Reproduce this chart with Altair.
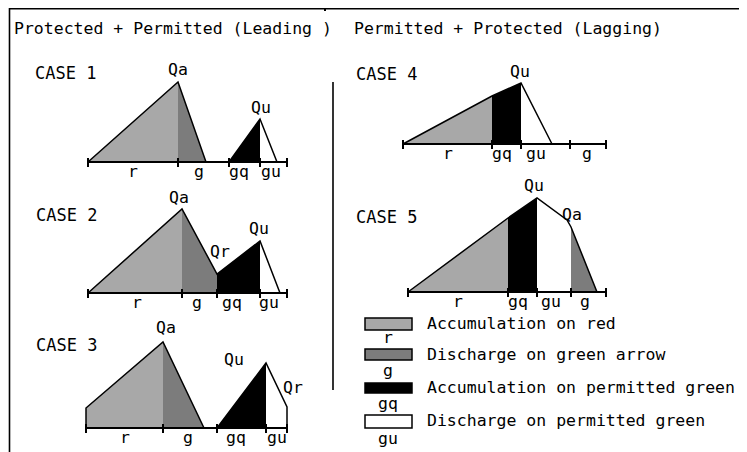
import altair as alt
import pandas as pd

# ---------------- data ----------------
PHASES = ["r", "g", "gq", "gu"]
PHASE_FILL = ["#a8a8a8", "#7c7c7c", "#000000", "#ffffff"]

TITLE_LEFT = "Protected + Permitted (Leading )"
TITLE_RIGHT = "Permitted + Protected (Lagging)"
CASES = ["CASE 1", "CASE 2", "CASE 3", "CASE 4", "CASE 5"]

# phase order, time breakpoints and queue lengths per case (diagram units)
CASE1_PHASE = ["r", "g", "gq", "gu"]
CASE1_TIME = [[0, 90], [90, 118], [141, 172], [172, 189]]
CASE1_QUEUE = [[0, 80], [80, 0], [0, 43], [43, 0]]
CASE1_TICKS = [0, 90, 141, 172, 199]
CASE1_PEAKS = ["Qa", "Qu"]

CASE2_PHASE = ["r", "g", "gq", "gu"]
CASE2_TIME = [[0, 94], [94, 129], [129, 172], [172, 192]]
CASE2_QUEUE = [[0, 84], [84, 19], [19, 52], [52, 0]]
CASE2_TICKS = [0, 94, 129, 172, 199]
CASE2_PEAKS = ["Qa", "Qr", "Qu"]

CASE3_PHASE = ["r", "g", "gq", "gu"]
CASE3_TIME = [[0, 77], [77, 118], [131, 180], [180, 201]]
CASE3_QUEUE = [[20, 86], [86, 0], [0, 65], [65, 21]]
CASE3_TICKS = [0, 77, 131, 180, 201]
CASE3_PEAKS = ["Qa", "Qu", "Qr"]

CASE4_PHASE = ["r", "gq", "gu"]
CASE4_TIME = [[0, 89], [89, 118], [118, 149]]
CASE4_QUEUE = [[0, 48], [48, 61], [61, 0]]
CASE4_TICKS = [0, 89, 118, 167, 203]
CASE4_PEAKS = ["Qu"]

CASE5_PHASE = ["r", "gq", "gu", "g"]
CASE5_TIME = [[0, 100], [100, 129], [129, 159, 163], [163, 189]]
CASE5_QUEUE = [[0, 74], [74, 94], [94, 72, 65], [65, 0]]
CASE5_TICKS = [0, 100, 129, 163, 198]
CASE5_PEAKS = ["Qu", "Qa"]

# interval labels under each time axis
CASE1_AXIS = ["r", "g", "gq", "gu"]
CASE2_AXIS = ["r", "g", "gq", "gu"]
CASE3_AXIS = ["r", "g", "gq", "gu"]
CASE4_AXIS = ["r", "gq", "gu", "g"]
CASE5_AXIS = ["r", "gq", "gu", "g"]

LEGEND_PHASE = ["r", "g", "gq", "gu"]
LEGEND_TEXT = ["Accumulation on red", "Discharge on green arrow",
               "Accumulation on permitted green", "Discharge on permitted green"]

# ---------------- layout ----------------
CASE_SPEC = {
    "CASE 1": (CASE1_PHASE, CASE1_TIME, CASE1_QUEUE, CASE1_TICKS, CASE1_PEAKS, CASE1_AXIS),
    "CASE 2": (CASE2_PHASE, CASE2_TIME, CASE2_QUEUE, CASE2_TICKS, CASE2_PEAKS, CASE2_AXIS),
    "CASE 3": (CASE3_PHASE, CASE3_TIME, CASE3_QUEUE, CASE3_TICKS, CASE3_PEAKS, CASE3_AXIS),
    "CASE 4": (CASE4_PHASE, CASE4_TIME, CASE4_QUEUE, CASE4_TICKS, CASE4_PEAKS, CASE4_AXIS),
    "CASE 5": (CASE5_PHASE, CASE5_TIME, CASE5_QUEUE, CASE5_TICKS, CASE5_PEAKS, CASE5_AXIS),
}
ORIGIN = {"CASE 1": (88, 162), "CASE 2": (88, 293), "CASE 3": (86, 428),
          "CASE 4": (403, 144), "CASE 5": (408, 292)}
CASE_TITLE_POS = {"CASE 1": (35, 74), "CASE 2": (36, 216), "CASE 3": (36, 346),
                  "CASE 4": (356, 75), "CASE 5": (356, 218)}
PEAK_POS = {"CASE 1": [(178, 70), (261, 108)],
            "CASE 2": [(179, 198), (220, 252), (259, 229)],
            "CASE 3": [(166, 328), (234, 360), (293, 388)],
            "CASE 4": [(520, 72)],
            "CASE 5": [(534, 186), (572, 215)]}
AXIS_LABEL_AT = {"CASE 1": [45, 111, 151, 183], "CASE 2": [49, 109, 144, 181],
                 "CASE 3": [39, 102, 150, 191], "CASE 4": [45, 99, 133, 184],
                 "CASE 5": [50, 110, 143, 177]}
LEGEND_BOX = [(318, 330), (349, 360), (383, 393), (415, 428)]
LEGEND_TEXT_Y = [324, 355, 388, 421]
LEGEND_SUB_Y = [343, 376, 409, 444]

FONT = "DejaVu Sans Mono"
BIG = 16.5

# ---------------- build tables ----------------
area_rows, line_rows, rule_rows, text_rows = [], [], [], []
for case in CASES:
    phase, time, queue, ticks, peaks, axis = CASE_SPEC[case]
    ox, oy = ORIGIN[case]
    polys, cur, last_end = [], [], None
    for i, (p, ts, qs) in enumerate(zip(phase, time, queue)):
        for t, q in zip(ts, qs):
            area_rows.append(dict(region=f"{case}-{i}", phase=p, x=ox + t, y=oy - q, y0=oy))
        if last_end is not None and ts[0] != last_end:
            polys.append(cur)
            cur = []
        for t, q in zip(ts, qs):
            if not cur or cur[-1] != (t, q):
                cur.append((t, q))
        last_end = ts[-1]
    polys.append(cur)
    for k, pts in enumerate(polys):
        if pts[0][1] > 0:
            pts = [(pts[0][0], 0)] + pts
        if pts[-1][1] > 0:
            pts = pts + [(pts[-1][0], 0)]
        for j, (t, q) in enumerate(pts):
            line_rows.append(dict(poly=f"{case}-{k}", idx=j, x=ox + t, y=oy - q))
    # time axis with ticks
    rule_rows.append(dict(x=ox + ticks[0], x2=ox + ticks[-1], y=oy, y2=oy, w=2))
    for t in ticks:
        rule_rows.append(dict(x=ox + t, x2=ox + t, y=oy - 4, y2=oy + 5, w=2))
    for lab, t in zip(axis, AXIS_LABEL_AT[case]):
        text_rows.append(dict(x=ox + t, y=oy + 15, text=lab, size=BIG, kind="axis"))
    for lab, (px, py) in zip(peaks, PEAK_POS[case]):
        text_rows.append(dict(x=px, y=py, text=lab, size=BIG, kind="peak"))
    cx, cy = CASE_TITLE_POS[case]
    text_rows.append(dict(x=cx, y=cy, text=case, size=17, kind="left"))

text_rows.append(dict(x=14, y=29, text=TITLE_LEFT, size=BIG, kind="left"))
text_rows.append(dict(x=354, y=29, text=TITLE_RIGHT, size=BIG, kind="left"))

legend_rows = []
for p, txt, (ya, yb), ty, sy in zip(LEGEND_PHASE, LEGEND_TEXT, LEGEND_BOX, LEGEND_TEXT_Y, LEGEND_SUB_Y):
    legend_rows.append(dict(phase=p, x=365, x2=412, y=ya, y2=yb))
    text_rows.append(dict(x=427, y=ty, text=txt, size=BIG, kind="left"))
    text_rows.append(dict(x=388, y=sy, text=p, size=BIG, kind="axis"))

# frame, divider
rule_rows += [
    dict(x=9, x2=747, y=8.8, y2=8.8, w=1.6),
    dict(x=9.5, x2=9.5, y=8, y2=452, w=1.6),
    dict(x=333, x2=333, y=82, y2=390, w=1.6),
    dict(x=325, x2=325, y=8, y2=11, w=2),
]

area_df = pd.DataFrame(area_rows)
line_df = pd.DataFrame(line_rows)
rule_df = pd.DataFrame(rule_rows)
text_df = pd.DataFrame(text_rows)
legend_df = pd.DataFrame(legend_rows)

xs = alt.Scale(domain=[8, 739], nice=False, zero=False)
ys = alt.Scale(domain=[8, 452], nice=False, zero=False, reverse=True)
fill_scale = alt.Scale(domain=PHASES, range=PHASE_FILL)


def X(f):
    return alt.X(f, type="quantitative", scale=xs, axis=None)


def Y(f):
    return alt.Y(f, type="quantitative", scale=ys, axis=None, stack=None)


areas = alt.Chart(area_df).mark_area(interpolate="linear").encode(
    x=X("x"), y=Y("y"), y2="y0:Q",
    color=alt.Color("phase:N", scale=fill_scale, legend=None),
    detail="region:N",
)
outlines = alt.Chart(line_df).mark_line(color="black", strokeWidth=1.5).encode(
    x=X("x"), y=Y("y"), detail="poly:N", order="idx:Q"
)
rules = alt.Chart(rule_df).mark_rule(color="black").encode(
    x=X("x"), x2="x2:Q", y=Y("y"), y2="y2:Q",
    strokeWidth=alt.StrokeWidth("w:Q", scale=None),
)
swatches = alt.Chart(legend_df).mark_rect(stroke="black", strokeWidth=1.5).encode(
    x=X("x"), x2="x2:Q", y=Y("y"), y2="y2:Q",
    color=alt.Color("phase:N", scale=fill_scale, legend=None),
)
text_left = alt.Chart(text_df).transform_filter(alt.datum.kind == "left").mark_text(
    align="left", baseline="middle", font=FONT, color="black"
).encode(x=X("x"), y=Y("y"), text="text:N", size=alt.Size("size:Q", scale=None))
text_axis = alt.Chart(text_df).transform_filter(alt.datum.kind == "axis").mark_text(
    align="center", baseline="alphabetic", font=FONT, color="black"
).encode(x=X("x"), y=Y("y"), text="text:N", size=alt.Size("size:Q", scale=None))
text_peak = alt.Chart(text_df).transform_filter(alt.datum.kind == "peak").mark_text(
    align="center", baseline="middle", font=FONT, color="black"
).encode(x=X("x"), y=Y("y"), text="text:N", size=alt.Size("size:Q", scale=None))

chart = alt.layer(
    areas, outlines, rules, swatches, text_left, text_axis, text_peak
).properties(
    width=731, height=444, padding=0, autosize="none", background="white"
).configure_view(strokeWidth=0)

chart.save("out.html", embed_options={"renderer": "svg", "actions": False})
